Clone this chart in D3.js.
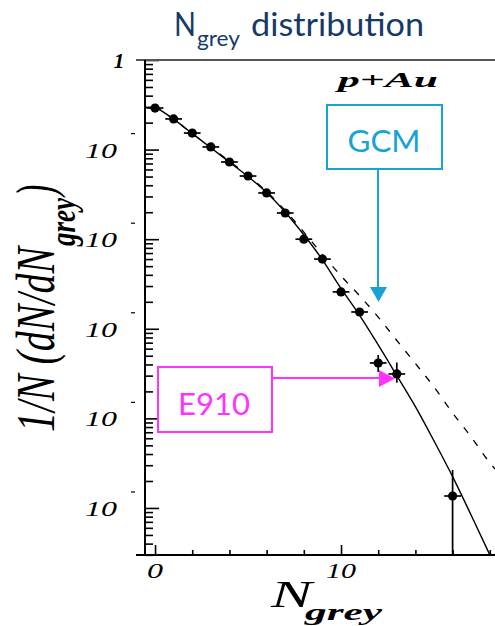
<!DOCTYPE html>
<html>
<head>
<meta charset="utf-8">
<script src="https://cdn.jsdelivr.net/npm/d3@7"></script>
<style>
body { margin: 0; background: #fff; }
</style>
</head>
<body>
<div id="chart"></div>
<script>
// data points (E910 p+Au)
var nGrey = [0,1,2,3,4,5,6,7,8,9,10,11,12,13,16];
var dNdN  = [0.291,0.220,0.153,0.107,0.0727,0.0507,0.0328,0.0196,0.0100,0.0060,0.00258,0.00154,0.000415,0.000313,0.0000136];
var xErr = 0.45;
// points with a visible vertical error bar
var errN  = [12,13,16];
var errHi = [5.1e-4,4.2e-4,2.65e-5];
var errLo = [3.3e-4,2.5e-4,1e-9];

// model curves
var curveN   = [0,1,2,3,4,5,6,7,8,9,10,11,12,13,14,15,16,17,18];
var solidFit = [0.302,0.219,0.151,0.105,0.0724,0.0501,0.0331,0.0200,0.0112,0.00589,0.00282,0.00141,6.6e-4,3.0e-4,1.35e-4,5.6e-5,2.24e-5,8.3e-6,3.0e-6];
var dashFit  = [0.302,0.219,0.151,0.106,0.0741,0.0513,0.0339,0.0209,0.0120,0.00676,0.00389,0.00234,0.00135,7.4e-4,4.1e-4,2.24e-4,1.15e-4,6.2e-5,3.2e-5];

var yDecades = [1e-1,1e-2,1e-3,1e-4,1e-5];
var xMajor = [0,10];
var xMinor = [2,4,6,8,12,14,16,18];

var w = 495, h = 626;
var pLeft = 145, pRight = 495, pTop = 60, pBottom = 555;
var serif = "'Liberation Serif','DejaVu Serif',serif";
var sans = "Lato,'Open Sans',sans-serif";

var svg = d3.select("#chart").append("svg").attr("width",w).attr("height",h);

// scales
var x = d3.scaleLinear().domain([-0.54,18.28]).range([pLeft,pRight]);
var y = d3.scaleLog().domain([Math.pow(10,-5.525),1]).range([pBottom,pTop]).clamp(true);

// title
var title = svg.append("text").attr("y",35).attr("fill","#163a68").style("font-family",sans);
title.append("tspan").attr("x",174).attr("y",36).style("font-size","33px").attr("textLength",22).attr("lengthAdjust","spacingAndGlyphs").text("N");
title.append("tspan").attr("x",197).attr("y",46).style("font-size","21px").attr("textLength",43).attr("lengthAdjust","spacingAndGlyphs").text("grey");
title.append("tspan").attr("x",251).attr("y",36).style("font-size","33px").attr("textLength",173).attr("lengthAdjust","spacingAndGlyphs").text("distribution");

// clip for curves
svg.append("clipPath").attr("id","plotclip").append("rect").attr("x",pLeft).attr("y",pTop).attr("width",pRight-pLeft).attr("height",pBottom-pTop);

// y ticks (inward)
var yt = y.ticks();
var isMajor = function(v) { var l = Math.log10(v); return Math.abs(l-Math.round(l)) < 1e-6; };
svg.append("g").attr("transform","translate("+pLeft+",0)")
   .call(d3.axisRight(y).tickValues(yt.filter(function(v){ return !isMajor(v); })).tickSize(8).tickFormat(""))
   .call(function(g){ g.select(".domain").remove(); g.selectAll("line").attr("stroke","#000").attr("stroke-width",1.6); });
svg.append("g").attr("transform","translate("+pLeft+",0)")
   .call(d3.axisRight(y).tickValues(yt.filter(isMajor)).tickSize(14).tickFormat(""))
   .call(function(g){ g.select(".domain").remove(); g.selectAll("line").attr("stroke","#000").attr("stroke-width",1.6); });

// x ticks (inward, from bottom)
svg.append("g").attr("transform","translate(0,"+pBottom+")")
   .call(d3.axisTop(x).tickValues(xMajor).tickSize(10).tickFormat(""))
   .call(function(g){ g.select(".domain").remove(); g.selectAll("line").attr("stroke","#000").attr("stroke-width",1.6); });
svg.append("g").attr("transform","translate(0,"+pBottom+")")
   .call(d3.axisTop(x).tickValues(xMinor).tickSize(5).tickFormat(""))
   .call(function(g){ g.select(".domain").remove(); g.selectAll("line").attr("stroke","#000").attr("stroke-width",1.6); });

// frame lines
svg.append("line").attr("x1",136).attr("x2",pRight).attr("y1",pTop).attr("y2",pTop).attr("stroke","#555").attr("stroke-width",2);
svg.append("line").attr("x1",136).attr("x2",pRight).attr("y1",pBottom).attr("y2",pBottom).attr("stroke","#000").attr("stroke-width",2);
svg.append("line").attr("x1",pLeft).attr("x2",pLeft).attr("y1",pTop).attr("y2",pBottom).attr("stroke","#000").attr("stroke-width",2);

// y tick labels
svg.append("text").attr("x",119).attr("y",y(1)+8).attr("text-anchor","middle").style("font-family",serif).style("font-style","italic").style("font-weight","bold").style("font-size","21px").text("1");
svg.selectAll(".ylab").data(yDecades).enter().append("text").attr("class","ylab")
   .attr("x",85).attr("y",function(d){ return y(d)+8; })
   .attr("textLength",32).attr("lengthAdjust","spacingAndGlyphs")
   .style("font-family",serif).style("font-style","italic").style("font-size","22px").text("10");
svg.selectAll(".yexp").data(yDecades).enter().append("line").attr("class","yexp")
   .attr("x1",131).attr("x2",135).attr("y1",function(d){ return y(d)-16; }).attr("y2",function(d){ return y(d)-16; })
   .attr("stroke","#000").attr("stroke-width",1.2);

// x tick labels
svg.selectAll(".xlab").data(xMajor).enter().append("text").attr("class","xlab")
   .attr("x",function(d){ return x(d); }).attr("y",578).attr("text-anchor","middle")
   .attr("textLength",function(d){ return d < 10 ? 16 : 30; }).attr("lengthAdjust","spacingAndGlyphs")
   .style("font-family",serif).style("font-style","italic").style("font-size","22px").text(function(d){ return d; });

// axis titles
var xt = svg.append("text").attr("y",607).style("font-family",serif).style("font-style","italic");
xt.append("tspan").attr("x",271).attr("y",607).style("font-size","38px").attr("textLength",41).attr("lengthAdjust","spacingAndGlyphs").text("N");
xt.append("tspan").attr("x",305).attr("y",620).style("font-size","24px").style("font-weight","bold").attr("textLength",77).attr("lengthAdjust","spacingAndGlyphs").text("grey");

var yTitle = svg.append("g").attr("transform","translate(54,432) scale(1.6,1) rotate(-90)")
   .append("text").style("font-family",serif).style("font-style","italic");
yTitle.append("tspan").attr("x",0).attr("y",0).style("font-size","34px").attr("textLength",185).attr("lengthAdjust","spacingAndGlyphs").text("1/N (dN/dN");
yTitle.append("tspan").attr("x",186).attr("y",13).style("font-size","22px").style("font-weight","bold").attr("textLength",48).attr("lengthAdjust","spacingAndGlyphs").text("grey");
yTitle.append("tspan").attr("x",236).attr("y",0).style("font-size","34px").text(")");

// p+Au label
svg.append("text").attr("x",338).attr("y",87).attr("textLength",100).attr("lengthAdjust","spacingAndGlyphs")
   .style("font-family",serif).style("font-style","italic").style("font-weight","bold").style("font-size","22px").text("p+Au");

// curves
var line = d3.line().x(function(d){ return x(d[0]); }).y(function(d){ return y(d[1]); }).curve(d3.curveMonotoneX);
var plot = svg.append("g").attr("clip-path","url(#plotclip)");
plot.append("path").datum(d3.zip(curveN,dashFit).concat([[18.6,2.3e-5]])).attr("d",line)
   .attr("fill","none").attr("stroke","#000").attr("stroke-width",1.3).attr("stroke-dasharray","7,9");
plot.append("path").datum(d3.zip(curveN,solidFit)).attr("d",line)
   .attr("fill","none").attr("stroke","#000").attr("stroke-width",1.4);

// error bars
plot.selectAll(".xerr").data(d3.zip(nGrey,dNdN)).enter().append("line").attr("class","xerr")
   .attr("x1",function(d){ return x(d[0]-xErr); }).attr("x2",function(d){ return x(d[0]+xErr); })
   .attr("y1",function(d){ return y(d[1]); }).attr("y2",function(d){ return y(d[1]); })
   .attr("stroke","#000").attr("stroke-width",1.7);
plot.selectAll(".yerr").data(d3.zip(errN,errLo,errHi)).enter().append("line").attr("class","yerr")
   .attr("x1",function(d){ return x(d[0]); }).attr("x2",function(d){ return x(d[0]); })
   .attr("y1",function(d){ return y(d[1]); }).attr("y2",function(d){ return y(d[2]); })
   .attr("stroke","#000").attr("stroke-width",1.7);

// points
plot.selectAll("circle").data(d3.zip(nGrey,dNdN)).enter().append("circle")
   .attr("cx",function(d){ return x(d[0]); }).attr("cy",function(d){ return y(d[1]); }).attr("r",4.6).attr("fill","#000");

// GCM annotation
var cyan = "#17a3d4";
svg.append("rect").attr("x",327).attr("y",105).attr("width",115).attr("height",64).attr("fill","#fff").attr("stroke",cyan).attr("stroke-width",2);
svg.append("text").attr("x",384).attr("y",152).attr("text-anchor","middle").attr("textLength",73).attr("lengthAdjust","spacingAndGlyphs")
   .attr("fill",cyan).style("font-family",sans).style("font-size","31px").text("GCM");
svg.append("line").attr("x1",378).attr("x2",378).attr("y1",169).attr("y2",289).attr("stroke",cyan).attr("stroke-width",2);
svg.append("path").attr("d","M370,287 L387,287 L378.5,302 Z").attr("fill",cyan);

// E910 annotation
var magenta = "#ff33ff";
svg.append("rect").attr("x",158).attr("y",367).attr("width",114).attr("height",65).attr("fill","#fff").attr("stroke",magenta).attr("stroke-width",2);
svg.append("text").attr("x",214).attr("y",415).attr("text-anchor","middle").attr("textLength",72).attr("lengthAdjust","spacingAndGlyphs")
   .attr("fill",magenta).style("font-family",sans).style("font-size","31px").text("E910");
svg.append("line").attr("x1",272).attr("x2",382).attr("y1",378).attr("y2",378).attr("stroke",magenta).attr("stroke-width",2);
svg.append("path").attr("d","M379,370 L395,378.5 L379,387 Z").attr("fill",magenta);
</script>
</body>
</html>
